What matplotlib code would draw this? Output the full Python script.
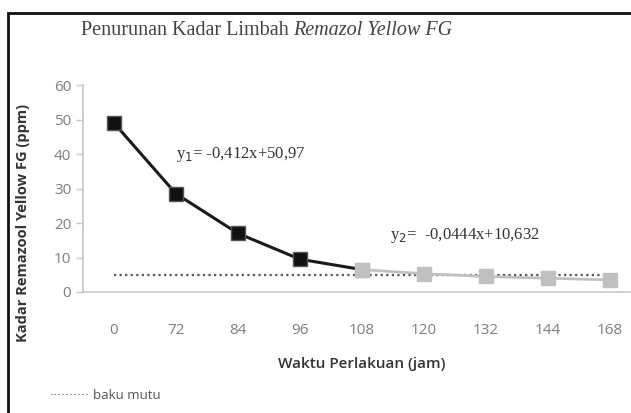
import matplotlib.pyplot as plt
from matplotlib.patches import Rectangle

# data
waktu = ['0', '72', '84', '96', '108', '120', '132', '144', '168']
kadar_1 = [49, 28.5, 17, 9.5, 6.5]          # 0 - 108 jam (hitam)
kadar_2 = [6.5, 5.3, 4.5, 4.0, 3.5]         # 108 - 168 jam (abu-abu)
baku_mutu = 5

fig = plt.figure(figsize=(6.31, 4.13), dpi=100)
ax = fig.add_axes([0.1315, 0.293, 0.884, 0.501])

x = list(range(len(waktu)))
ax.plot(x, [baku_mutu] * len(x), linestyle=(0, (1, 1.5)), color='#555555', lw=1.6, zorder=1)
ax.plot(x[4:], kadar_2, color='#c0c0c0', lw=2, marker='s', ms=10,
        mfc='#c0c0c0', mec='#c0c0c0', zorder=2)
ax.plot(x[:5], kadar_1, color='#1a1a1a', lw=2.2, zorder=3)
ax.plot(x[:4], kadar_1[:4], linestyle='none', marker='s', ms=10,
        mfc='#111111', mec='#555555', zorder=4)
# gray marker at 108 on top of the black line
ax.plot(x[4], kadar_2[0], linestyle='none', marker='s', ms=10,
        mfc='#c0c0c0', mec='#c0c0c0', zorder=5)

ax.set_xlim(-0.5, 8.5)
ax.set_ylim(0, 60)
ax.set_yticks(range(0, 61, 10))
ax.set_xticks(x)
ax.set_xticklabels(waktu)

for s in ['top', 'right']:
    ax.spines[s].set_visible(False)
for s in ['left', 'bottom']:
    ax.spines[s].set_color('#c8c8c8')
    ax.spines[s].set_linewidth(1.2)

ax.tick_params(axis='y', colors='#c8c8c8', labelcolor='#7f7f7f', labelsize=11, length=5, width=1)
ax.tick_params(axis='x', length=0, labelcolor='#7f7f7f', labelsize=11, pad=22)
for lbl in ax.get_xticklabels() + ax.get_yticklabels():
    lbl.set_family('Open Sans')

ax.set_xlabel('Waktu Perlakuan (jam)', family='Open Sans', fontweight='semibold',
              fontsize=11, color='#333333', labelpad=14)
fig.text(0.036, 0.46, 'Kadar Remazool Yellow FG (ppm)', rotation=90, ha='center',
         va='center', family='Open Sans', fontweight='bold', fontsize=10.5, color='#333333')

# title
t1 = fig.text(0.128, 0.925, 'Penurunan Kadar Limbah ', family='Liberation Serif',
              fontsize=14.5, color='#444444', ha='left', va='center')
fig.canvas.draw()
ax.annotate('Remazol Yellow FG', xy=(1, 0.5), xycoords=t1, va='center', ha='left',
            family='Liberation Serif', style='italic', fontsize=14.5, color='#444444')

# persamaan
ax.text(1.0, 40, r'y$_1$= -0,412x+50,97', family='Liberation Serif', fontsize=12,
        color='#333333', ha='left', va='center')
ax.text(4.45, 16.5, r'y$_2$=  -0,0444x+10,632', family='Liberation Serif', fontsize=12,
        color='#333333', ha='left', va='center')

# legend
fig.text(0.078, 0.042, '··········', fontsize=9, color='#555555', ha='left', va='center')
fig.text(0.148, 0.042, 'baku mutu', family='Open Sans', fontsize=9.5, color='#555555',
         ha='left', va='center')

# frame
fig.patches.append(Rectangle((0.013, -0.1), 1.1, 1.069, transform=fig.transFigure,
                             fill=False, edgecolor='#111111', lw=2))

fig.savefig('out.png', dpi=100)
